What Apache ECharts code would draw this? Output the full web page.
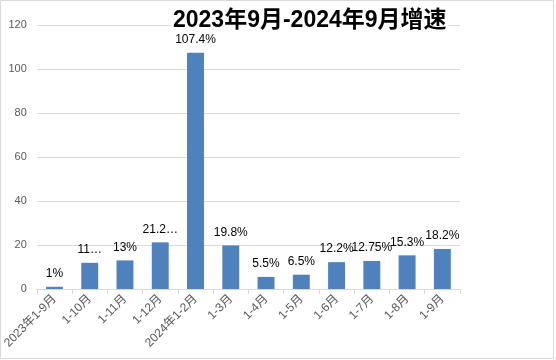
<!DOCTYPE html>
<html><head><meta charset="utf-8">
<script src="https://cdn.jsdelivr.net/npm/echarts@6/dist/echarts.min.js"></script>
<style>html,body{margin:0;padding:0;background:#fff}#c{width:556px;height:360px}</style>
</head><body><div id="c"></div>
<script>
var categories = ['2023年1-9月','1-10月','1-11月','1-12月','2024年1-2月','1-3月','1-4月','1-5月','1-6月','1-7月','1-8月','1-9月'];
var values = [1, 11.9, 13, 21.2, 107.4, 19.8, 5.5, 6.5, 12.2, 12.75, 15.3, 18.2];
var labels = ['1%','11…','13%','21.2…','107.4%','19.8%','5.5%','6.5%','12.2%','12.75%','15.3%','18.2%'];
var yTicks = [0, 20, 40, 60, 80, 100, 120];

var font = '"Liberation Sans","Noto Sans CJK SC",sans-serif';
var chart = echarts.init(document.getElementById('c'));
chart.setOption({
  animation: false,
  title: {
    text: '2023年9月-2024年9月增速',
    left: 171, top: 7,
    padding: [2, 2],
    backgroundColor: '#fff',
    textStyle: {fontFamily: font, fontSize: 23, fontWeight: 'bold', color: '#000'}
  },
  graphic: [{
    type: 'rect', silent: true,
    shape: {x: 0.5, y: 0.5, width: 553, height: 358},
    style: {fill: 'none', stroke: '#d9d9d9', lineWidth: 1},
    z: -1
  }],
  grid: {left: 36, right: 96, top: 25, bottom: 71},
  xAxis: {
    type: 'category',
    data: categories,
    axisLine: {lineStyle: {color: '#d9d9d9'}},
    axisTick: {show: true, length: 5, lineStyle: {color: '#d9d9d9'}},
    axisLabel: {interval: 0, rotate: 45, fontFamily: font, fontSize: 12, color: '#595959', margin: 8}
  },
  yAxis: {
    type: 'value', min: yTicks[0], max: yTicks[yTicks.length-1], interval: 20,
    axisLine: {show: false}, axisTick: {show: false},
    splitLine: {lineStyle: {color: '#d9d9d9'}},
    axisLabel: {fontFamily: font, fontSize: 11, color: '#595959', margin: 10}
  },
  series: [{
    type: 'bar',
    data: values,
    barWidth: '48%',
    itemStyle: {color: '#4f81bd'},
    label: {
      show: true, position: 'top', distance: 7,
      fontFamily: font, fontSize: 12, color: '#000',
      formatter: function (p) { return labels[p.dataIndex]; }
    }
  }]
});
</script></body></html>
